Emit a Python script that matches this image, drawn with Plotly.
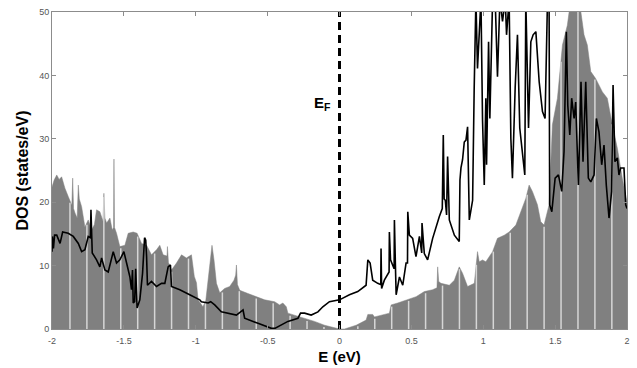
import numpy as np
import plotly.graph_objects as go

# ---------------- data ----------------
gray_E = [-2.0, -1.985, -1.967, -1.95, -1.933, -1.91, -1.887, -1.862, -1.856, -1.85, -1.84, -1.825,
          -1.817, -1.81, -1.794, -1.771, -1.748, -1.724, -1.705, -1.69, -1.667, -1.645, -1.639,
          -1.632, -1.62, -1.597, -1.581, -1.572, -1.569, -1.565, -1.551, -1.528, -1.493, -1.47,
          -1.435, -1.408, -1.377, -1.342, -1.308, -1.273, -1.25, -1.227, -1.2, -1.197, -1.19,
          -1.169, -1.134, -1.099, -1.065, -1.03, -1.01, -0.995, -0.984, -0.95, -0.93, -0.919,
          -0.903, -0.887, -0.873, -0.856, -0.833, -0.799, -0.764, -0.734, -0.722, -0.717, -0.71,
          -0.694, -0.637, -0.578, -0.521, -0.451, -0.417, -0.394, -0.37, -0.359, -0.312, -0.243,
          -0.174, -0.104, -0.035, 0.0, 0.035, 0.116, 0.185, 0.197, 0.231, 0.243, 0.347, 0.359,
          0.405, 0.463, 0.533, 0.59, 0.648, 0.678, 0.683, 0.69, 0.706, 0.764, 0.799, 0.833,
          0.856, 0.891, 0.938, 0.96, 0.972, 0.995, 1.018, 1.065, 1.099, 1.146, 1.18, 1.227,
          1.261, 1.296, 1.319, 1.342, 1.377, 1.4, 1.423, 1.458, 1.481, 1.516, 1.551, 1.585,
          1.609, 1.667, 1.701, 1.724, 1.748, 1.782, 1.829, 1.863, 1.898, 1.933, 1.967, 1.991, 2.0]
gray_dos = [22.4, 23.5, 24.3, 23.6, 24.0, 22.2, 20.9, 19.5, 23.8, 19.0, 18.3, 17.5,
            22.7, 20.5, 19.3, 16.1, 17.2, 15.6, 16.5, 18.8, 18.5, 17.0, 21.4,
            17.5, 16.7, 17.5, 15.6, 16.0, 26.8, 16.0, 15.1, 13.0, 13.2, 15.1,
            15.3, 15.1, 13.5, 13.2, 11.7, 12.5, 13.2, 11.7, 11.5, 13.0, 10.5,
            9.3, 10.4, 11.7, 11.2, 11.7, 8.3, 7.3, 4.6, 3.5, 4.5, 6.7,
            10.9, 13.2, 10.9, 7.2, 5.7, 6.4, 6.7, 7.7, 8.5, 10.1, 7.0,
            6.1, 5.6, 5.1, 4.6, 4.3, 3.8, 4.1, 3.5, 2.5, 2.2, 1.7,
            1.2, 0.6, 0.2, 0.0, 0.0, 0.6, 1.4, 2.3, 2.3, 1.9, 2.5, 3.8,
            4.1, 4.6, 5.1, 5.9, 6.2, 6.5, 9.8, 7.5, 7.2, 6.9, 7.7, 9.8,
            8.8, 6.7, 7.2, 12.2, 10.6, 10.9, 10.6, 12.2, 14.3, 14.8, 15.3, 16.4,
            18.5, 20.6, 22.7, 21.7, 19.6, 16.9, 16.4, 19.6, 32.2, 36.4, 44.8, 47.9,
            52.0, 52.0, 46.4, 44.8, 40.6, 39.5, 37.4, 36.4, 32.2, 28.5, 23.8, 20.6, 20.0]

line_E = [-2.0, -1.997, -1.99, -1.982, -1.967, -1.944, -1.926, -1.887, -1.852, -1.817, -1.794,
          -1.771, -1.748, -1.733, -1.729, -1.725, -1.72, -1.69, -1.667, -1.655, -1.632, -1.609,
          -1.586, -1.574, -1.551, -1.528, -1.5, -1.481, -1.458, -1.447, -1.44, -1.435, -1.425,
          -1.418, -1.413, -1.408, -1.389, -1.37, -1.356, -1.348, -1.342, -1.336, -1.308, -1.273,
          -1.238, -1.215, -1.192, -1.176, -1.169, -1.111, -1.042, -0.972, -0.961, -0.914, -0.896,
          -0.868, -0.822, -0.775, -0.717, -0.671, -0.66, -0.567, -0.474, -0.45, -0.359, -0.289,
          -0.271, -0.243, -0.197, -0.15, -0.116, -0.07, -0.035, 0.0, 0.069, 0.127, 0.185, 0.197,
          0.213, 0.231, 0.266, 0.287, 0.289, 0.293, 0.312, 0.345, 0.347, 0.355, 0.38, 0.382,
          0.389, 0.394, 0.417, 0.44, 0.463, 0.473, 0.475, 0.486, 0.509, 0.532, 0.556, 0.572,
          0.574, 0.59, 0.613, 0.648, 0.694, 0.715, 0.722, 0.728, 0.736, 0.745, 0.752, 0.758,
          0.764, 0.799, 0.833, 0.838, 0.845, 0.856, 0.868, 0.88, 0.891, 0.903, 0.926, 0.937,
          0.949, 0.96, 0.972, 0.984, 0.995, 1.007, 1.018, 1.023, 1.037, 1.046, 1.065, 1.083,
          1.099, 1.116, 1.134, 1.153, 1.162, 1.18, 1.192, 1.203, 1.222, 1.238, 1.254, 1.273,
          1.289, 1.296, 1.315, 1.331, 1.347, 1.366, 1.389, 1.412, 1.43, 1.447, 1.458, 1.462,
          1.477, 1.5, 1.523, 1.546, 1.562, 1.578, 1.588, 1.602, 1.615, 1.632, 1.643, 1.662,
          1.68, 1.694, 1.713, 1.731, 1.748, 1.771, 1.787, 1.805, 1.824, 1.84, 1.856, 1.875,
          1.893, 1.903, 1.916, 1.933, 1.944, 1.956, 1.979, 1.991, 2.0]
line_dos = [12.2, 14.6, 12.7, 14.8, 14.8, 13.5, 15.3, 15.1, 14.6, 13.5, 12.2,
            12.5, 14.6, 14.4, 18.8, 14.0, 12.0, 10.9, 9.8, 11.2, 9.3, 9.0,
            11.2, 12.2, 10.4, 10.9, 12.2, 10.4, 8.2, 6.2, 9.3, 4.1, 4.3,
            9.5, 4.0, 3.3, 4.6, 8.8, 14.4, 14.0, 11.4, 6.9, 7.5, 6.7,
            7.2, 7.2, 9.8, 10.1, 6.7, 6.2, 5.4, 4.6, 4.3, 4.1, 4.3,
            3.8, 2.7, 2.5, 2.2, 3.0, 1.7, 0.9, 0.1, 0.1, 1.2, 1.7,
            2.5, 2.5, 2.2, 2.7, 3.5, 4.3, 4.5, 4.6, 5.4, 5.9, 6.9, 10.9,
            10.4, 7.7, 7.2, 7.0, 12.7, 6.4, 7.7, 9.0, 15.3, 10.9, 9.5, 17.2,
            10.0, 5.4, 8.2, 6.9, 10.4, 10.4, 18.5, 14.8, 14.3, 11.4, 14.6, 12.0,
            16.7, 11.9, 10.9, 14.3, 17.7, 19.0, 30.6, 20.5, 20.3, 18.0, 27.2, 20.0,
            17.2, 14.8, 13.8, 23.5, 25.4, 26.7, 29.5, 29.8, 31.9, 17.2, 20.3, 38.0,
            52.0, 41.1, 46.9, 52.0, 33.0, 22.7, 36.4, 25.9, 45.3, 33.2, 52.0, 52.0,
            39.8, 52.0, 48.5, 52.0, 46.4, 52.0, 30.1, 23.8, 38.0, 46.4, 31.7, 28.0,
            24.3, 52.0, 31.7, 45.3, 46.4, 46.9, 39.0, 34.3, 33.2, 52.0, 52.0, 19.6,
            18.5, 23.8, 24.3, 21.7, 28.0, 46.9, 35.3, 30.6, 36.4, 33.2, 35.8, 22.7,
            39.0, 26.4, 39.0, 23.8, 23.2, 24.3, 33.2, 31.1, 25.9, 29.0, 22.7, 17.5,
            21.7, 38.5, 26.4, 27.0, 24.3, 25.4, 25.4, 19.6, 19.0]

x_ticks = [-2, -1.5, -1, -0.5, 0, 0.5, 1, 1.5, 2]
x_tick_labels = ["-2", "-1.5", "-1", "-0.5", "0", "0.5", "1", "1.5", "2"]
y_ticks = [0, 10, 20, 30, 40, 50]
fermi_level = 0.0

# ---------------- figure ----------------
fig = go.Figure()

fig.add_trace(go.Scatter(x=gray_E, y=gray_dos, mode="lines", fill="tozeroy",
                         fillcolor="#808080", line=dict(color="#808080", width=0.5),
                         hoverinfo="skip", showlegend=False))

# light stripes inside the grey area (rendering artefact of the original area chart)
stripe_x = np.arange(-1.875, 2.0, 0.1178)
stripe_top = np.interp(stripe_x, gray_E, gray_dos) - 0.3
sx, sy = [], []
for v, t in zip(stripe_x, stripe_top):
    sx += [v, v, None]
    sy += [0, t, None]
fig.add_trace(go.Scatter(x=sx, y=sy, mode="lines", line=dict(color="#d6d6d6", width=1.5),
                         hoverinfo="skip", showlegend=False))

fig.add_trace(go.Scatter(x=line_E, y=line_dos, mode="lines",
                         line=dict(color="black", width=1.6),
                         hoverinfo="skip", showlegend=False))

fig.add_trace(go.Scatter(x=[fermi_level, fermi_level], y=[0, 50], mode="lines",
                         line=dict(color="black", width=3, dash="8px,5px"),
                         hoverinfo="skip", showlegend=False))

fig.add_annotation(x=-0.12, y=35.6, xref="x", yref="y", text="<b>E<sub>F</sub></b>",
                   showarrow=False, font=dict(family="Arial, Liberation Sans", size=15, color="black"))

axis_common = dict(showgrid=False, zeroline=False, showline=True, linecolor="#8c8c8c",
                   linewidth=1, mirror="ticks", ticks="inside", ticklen=4, tickcolor="#8c8c8c",
                   automargin=False,
                   tickfont=dict(family="Arial, Liberation Sans", size=9, color="#555555"))

fig.update_layout(
    width=637, height=368,
    margin=dict(l=52, r=10, t=12, b=39),
    paper_bgcolor="white", plot_bgcolor="white",
    xaxis=dict(range=[-2, 2], tickvals=x_ticks, ticktext=x_tick_labels, ticklabelstandoff=3,
               title=dict(text="<b>E (eV)</b>", standoff=6,
                          font=dict(family="Arial, Liberation Sans", size=15, color="black")),
               **axis_common),
    yaxis=dict(range=[0, 50], tickvals=y_ticks,
               title=dict(text="<b>DOS (states/eV)</b>", standoff=6,
                          font=dict(family="Arial, Liberation Sans", size=16, color="black")),
               **axis_common),
)

fig.write_html("out.html", config={"displayModeBar": False},
               post_script="document.body.style.margin='0px';document.body.style.overflow='hidden';")
